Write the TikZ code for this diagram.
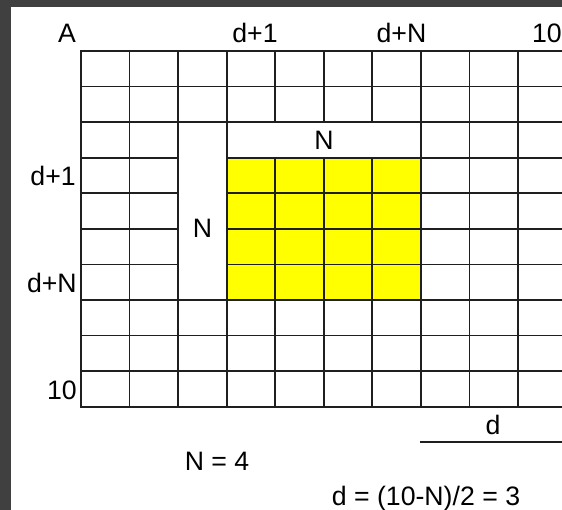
\documentclass[tikz,border=0pt]{standalone}
\usepackage{fontspec}
\setmainfont{Liberation Sans}
\definecolor{framegray}{HTML}{404040}
\definecolor{cellyellow}{HTML}{FFFF00}
\begin{document}
\begin{tikzpicture}[x=0.75pt,y=-0.75pt,
  gridline/.style={line width=1.3pt,color=black!88,line cap=rect},
  lbl/.style={inner sep=0pt,anchor=base,font=\fontsize{20}{24}\selectfont},
  lblr/.style={lbl,anchor=base east}]
\def\cw{48.55}
\def\rh{35.57}
\clip (0,0) rectangle (562,510);
\fill[framegray] (0,0) rectangle (562,510);
\fill[white] (11,7.5) rectangle (562,510);
% yellow N x N block
\fill[cellyellow] ({81+3*\cw},{51+3*\rh}) rectangle ({81+7*\cw},{51+7*\rh});
% horizontal grid lines
\foreach \j in {0,1,2,7,8,9,10}
  \draw[gridline] (81,{51+\j*\rh}) -- ({81+10*\cw},{51+\j*\rh});
\foreach \j in {3,4,5,6}{
  \draw[gridline] (81,{51+\j*\rh}) -- ({81+2*\cw},{51+\j*\rh});
  \draw[gridline] ({81+3*\cw},{51+\j*\rh}) -- ({81+10*\cw},{51+\j*\rh});
}
% vertical grid lines
\foreach \k in {0,1,2,3,7,8,9,10}
  \draw[gridline] ({81+\k*\cw},51) -- ({81+\k*\cw},{51+10*\rh});
\foreach \k in {4,5,6}{
  \draw[gridline] ({81+\k*\cw},51) -- ({81+\k*\cw},{51+2*\rh});
  \draw[gridline] ({81+\k*\cw},{51+3*\rh}) -- ({81+\k*\cw},{51+10*\rh});
}
% d bracket line
\coordinate (dl) at ({81+7*\cw},442);
\coordinate (dr) at ({81+10*\cw},442);
\draw[gridline] (dl) -- (dr);
% labels
\node[lbl] (A) at (67,43) {A};
\node[lbl] (c1) at (255,43) {d+1};
\node[lbl] (cN) at (401.5,43) {d+N};
\node[lbl] (c10) at (547,43) {10};
\node[lblr] (r1) at (76,186) {d+1};
\node[lblr] (rN) at (77,293) {d+N};
\node[lblr] (r10) at (77,400) {10};
\node[lbl] (Ntop) at (324,150) {N};
\node[lbl] (Nleft) at (202.5,238) {N};
\node[lbl] (dlab) at (493,435) {d};
\node[lbl] (Neq) at (217,471) {N = 4};
\node[lbl] (deq) at (426,506) {d = (10-N)/2 = 3};
\end{tikzpicture}
\end{document}
